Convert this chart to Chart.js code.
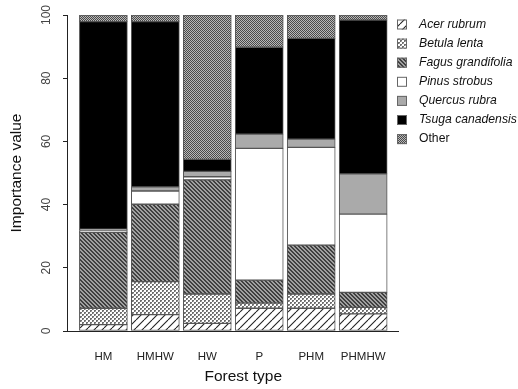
<!DOCTYPE html>
<html>
<head>
<meta charset="utf-8">
<script src="https://cdn.jsdelivr.net/npm/chart.js@4/dist/chart.umd.min.js"></script>
<style>
html,body{margin:0;padding:0;background:#fff;}
#wrap{width:518px;height:389px;position:relative;}
</style>
</head>
<body>
<div id="wrap"><canvas id="c" width="518" height="389"></canvas></div>
<script>
// ---- data ----
const categories = ["HM", "HMHW", "HW", "P", "PHM", "PHMHW"];
const acerRubrum      = [2.0, 5.2, 2.4, 7.2, 7.2, 5.4];
const betulaLenta     = [5.2, 10.4, 9.3, 1.6, 4.5, 2.1];
const fagusGrandifolia= [24.0, 24.5, 36.1, 7.3, 15.5, 4.7];
const pinusStrobus    = [0.6, 4.2, 1.0, 41.7, 30.9, 24.8];
const quercusRubra    = [0.4, 1.3, 1.7, 4.5, 2.6, 12.7];
const tsugaCanadensis = [65.7, 52.3, 3.8, 27.5, 31.9, 48.7];
const other           = [2.1, 2.1, 45.7, 10.2, 7.4, 1.6];
const seriesNames = ["Acer rubrum", "Betula lenta", "Fagus grandifolia", "Pinus strobus", "Quercus rubra", "Tsuga canadensis", "Other"];
const yTicks = [0, 20, 40, 60, 80, 100];

// ---- patterns ----
function makePattern(size, draw) {
  const c = document.createElement('canvas');
  c.width = size; c.height = size;
  const g = c.getContext('2d');
  draw(g, size);
  return document.getElementById('c').getContext('2d').createPattern(c, 'repeat');
}
const pAcer = makePattern(8, (g, s) => {
  g.fillStyle = '#fff'; g.fillRect(0, 0, s, s);
  g.strokeStyle = '#222'; g.lineWidth = 1.1;
  for (let k = -1; k <= 1; k++) {
    g.beginPath(); g.moveTo(k * s, s); g.lineTo(k * s + s, 0); g.stroke();
  }
});
const pBetula = makePattern(4, (g, s) => {
  g.fillStyle = '#fff'; g.fillRect(0, 0, s, s);
  g.fillStyle = '#6e6e6e';
  g.fillRect(0, 0, 2, 2); g.fillRect(2, 2, 2, 2);
  g.fillStyle = '#aaa';
  g.fillRect(1, 1, 1, 1); g.fillRect(3, 3, 1, 1);
});
const pFagus = makePattern(4, (g, s) => {
  g.fillStyle = '#a0a0a0'; g.fillRect(0, 0, s, s);
  g.fillStyle = '#404040';
  for (let i = 0; i < s; i++) { g.fillRect(i, i, 1, 1); g.fillRect((i + 1) % s, i, 1, 1); }
});
const pOther = makePattern(2, (g, s) => {
  g.fillStyle = '#b8b8b8'; g.fillRect(0, 0, s, s);
  g.fillStyle = '#4a4a4a';
  g.fillRect(0, 0, 1, 1); g.fillRect(1, 1, 1, 1);
});
const fills = [pAcer, pBetula, pFagus, '#ffffff', '#aaaaaa', '#000000', pOther];
const seriesValues = [acerRubrum, betulaLenta, fagusGrandifolia, pinusStrobus, quercusRubra, tsugaCanadensis, other];

const datasets = seriesNames.map((name, si) => ({
  label: name,
  data: seriesValues[si].map((v, i) => ({ x: i, y: v })),
  backgroundColor: fills[si],
  borderColor: '#555',
  borderWidth: 1,
  barThickness: 48,
  borderSkipped: false
}));

// ---- custom legend (italic species, normal "Other") ----
const legendPlugin = {
  id: 'sideLegend',
  afterDraw(chart) {
    const ctx = chart.ctx;
    ctx.save();
    const x0 = 397, y0 = 24.5, step = 19.1;
    chart.data.datasets.forEach((ds, i) => {
      const cy = y0 + i * step;
      ctx.fillStyle = ds.backgroundColor;
      ctx.fillRect(x0, cy - 5, 10, 10);
      ctx.strokeStyle = '#666'; ctx.lineWidth = 1;
      ctx.strokeRect(x0 + 0.5, cy - 4.5, 9, 9);
      ctx.fillStyle = '#111';
      ctx.font = (ds.label === 'Other' ? '' : 'italic ') + '12.2px "Liberation Sans", Arial, sans-serif';
      ctx.textBaseline = 'middle';
      ctx.textAlign = 'left';
      ctx.fillText(ds.label, 419, cy);
    });
    ctx.restore();
  }
};

new Chart(document.getElementById('c'), {
  type: 'bar',
  data: { datasets },
  plugins: [legendPlugin],
  options: {
    responsive: false,
    animation: false,
    devicePixelRatio: 1,
    layout: { padding: { top: 15, right: 120, left: 0, bottom: 0 } },
    plugins: { legend: { display: false }, tooltip: { enabled: false } },
    scales: {
      x: {
        type: 'linear',
        stacked: true,
        offset: false,
        min: -0.7,
        max: 5.67,
        grid: { display: false, drawTicks: false, offset: false },
        border: { display: true, color: '#222', width: 1 },
        afterBuildTicks: (s) => { s.ticks = categories.map((c, i) => ({ value: i })); },
        ticks: {
          autoSkip: false, maxRotation: 0, padding: 19,
          color: '#222',
          font: { family: '"Liberation Sans", Arial, sans-serif', size: 11.5 },
          callback: (v) => categories[v] ?? ''
        },
        title: {
          display: true, text: '     Forest type', color: '#111',
          font: { family: '"Liberation Sans", Arial, sans-serif', size: 15.5 },
          padding: { top: 0, bottom: 3 }
        },
        afterFit: (s) => { s.height = 58; }
      },
      y: {
        stacked: true,
        min: 0, max: 100,
        afterBuildTicks: (s) => { s.ticks = yTicks.map(v => ({ value: v })); },
        grid: { drawOnChartArea: false, drawTicks: true, tickLength: 4, color: '#222' },
        border: { display: true, color: '#222', width: 1 },
        ticks: {
          minRotation: 90, maxRotation: 90, crossAlign: 'center', padding: 6,
          color: '#444',
          font: { family: '"Liberation Sans", Arial, sans-serif', size: 12 }
        },
        title: {
          display: true, text: 'Importance value', color: '#111',
          font: { family: '"Liberation Sans", Arial, sans-serif', size: 15.5 },
          padding: { top: 7, bottom: 0 }
        },
        afterFit: (s) => { s.width = 67; }
      }
    }
  }
});
</script>
</body>
</html>
